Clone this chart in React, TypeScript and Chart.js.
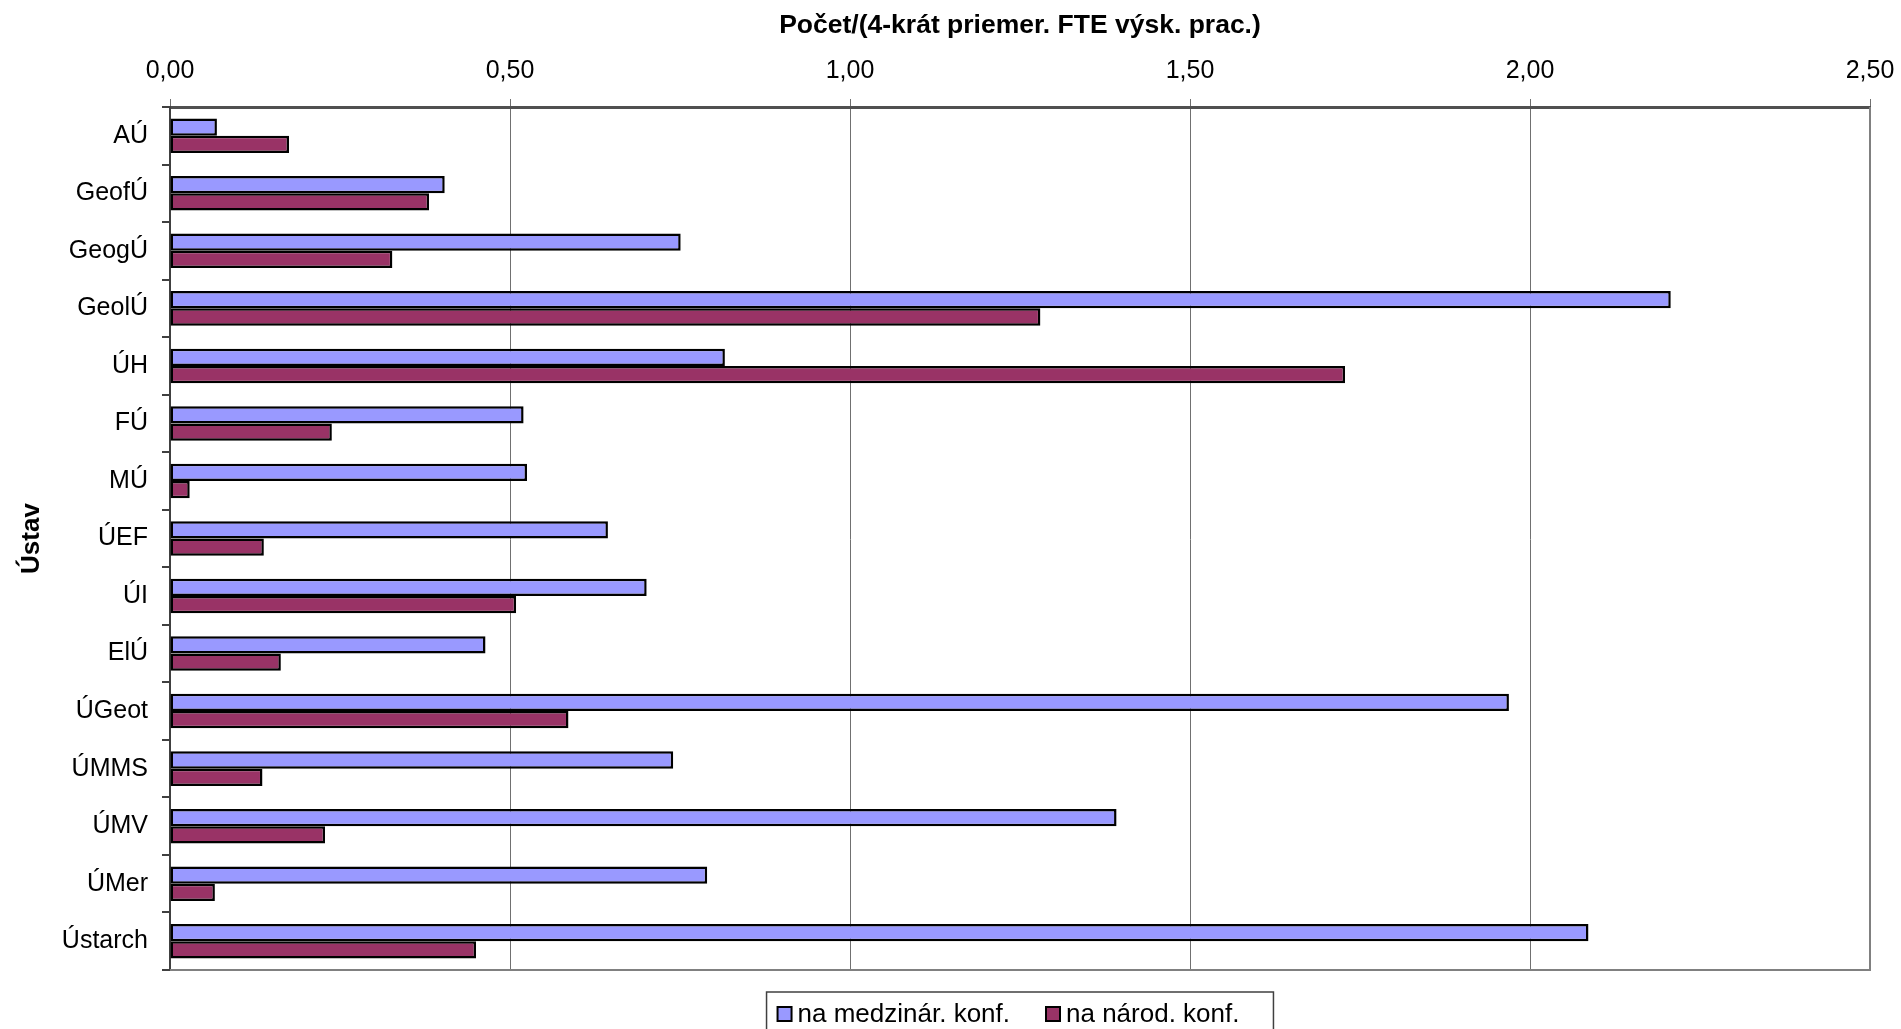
import React, { useEffect, useRef } from "react";
import { Chart, registerables } from "chart.js";

Chart.register(...registerables);

const categories = ["AÚ", "GeofÚ", "GeogÚ", "GeolÚ", "ÚH", "FÚ", "MÚ", "ÚEF", "ÚI", "ElÚ", "ÚGeot", "ÚMMS", "ÚMV", "ÚMer", "Ústarch"];
const seriesNames = ["na medzinár. konf.", "na národ. konf."];
const medzinar = [0.069, 0.404, 0.751, 2.207, 0.816, 0.52, 0.525, 0.644, 0.701, 0.464, 1.969, 0.74, 1.392, 0.79, 2.086];
const narod = [0.175, 0.381, 0.327, 1.28, 1.728, 0.238, 0.029, 0.138, 0.509, 0.163, 0.586, 0.136, 0.228, 0.066, 0.45];
const xTicks = [0, 0.5, 1, 1.5, 2, 2.5];
const xTitle = "Počet/(4-krát priemer. FTE výsk. prac.)";
const yTitle = "Ústav";

const FONT = "'Liberation Sans', Arial, sans-serif";

const framePlugin = {
  id: "frame",
  beforeDatasetsDraw(chart: any) {
    const { ctx, chartArea: a } = chart;
    ctx.save();
    ctx.strokeStyle = "#808080";
    ctx.lineWidth = 2;
    ctx.beginPath();
    ctx.moveTo(a.left, a.bottom);
    ctx.lineTo(a.right, a.bottom);
    ctx.lineTo(a.right, a.top);
    ctx.stroke();
    ctx.restore();
  },
};

const legendPlugin = {
  id: "boxLegend",
  afterDraw(chart: any) {
    const { ctx, chartArea: a } = chart;
    const ds = chart.data.datasets;
    ctx.save();
    ctx.font = `26px ${FONT}`;
    const box = 14;
    const gapText = 6;
    const gapItem = 36;
    const widths = ds.map((d: any) => ctx.measureText(d.label).width);
    let total = 0;
    widths.forEach((w: number, i: number) => {
      total += box + gapText + w + (i < widths.length - 1 ? gapItem : 0);
    });
    const padL = 11;
    const padR = 34;
    const bw = total + padL + padR;
    const cx = (a.left + a.right) / 2;
    const bx = cx - bw / 2;
    const by = a.bottom + 22;
    const ty = a.bottom + 44;
    ctx.fillStyle = "#ffffff";
    ctx.fillRect(bx, by, bw, 70);
    ctx.strokeStyle = "#404040";
    ctx.lineWidth = 1.5;
    ctx.strokeRect(bx, by, bw, 70);
    let x = bx + padL;
    ds.forEach((d: any, i: number) => {
      ctx.fillStyle = d.backgroundColor;
      ctx.fillRect(x, ty - box / 2, box, box);
      ctx.strokeStyle = "#000";
      ctx.lineWidth = 2;
      ctx.strokeRect(x, ty - box / 2, box, box);
      ctx.fillStyle = "#000";
      ctx.textBaseline = "middle";
      ctx.textAlign = "left";
      ctx.fillText(d.label, x + box + gapText, ty + 1);
      x += box + gapText + widths[i] + gapItem;
    });
    ctx.restore();
  },
};

export default function App() {
  const ref = useRef<HTMLCanvasElement>(null);
  useEffect(() => {
    const chart = new Chart(ref.current as HTMLCanvasElement, {
      type: "bar",
      data: {
        labels: categories,
        datasets: [
          {
            label: seriesNames[0],
            data: medzinar,
            backgroundColor: "#9999FF",
            borderColor: "#000000",
            borderWidth: 2.5,
            borderSkipped: false,
            categoryPercentage: 0.6,
            barPercentage: 1.0,
          },
          {
            label: seriesNames[1],
            data: narod,
            backgroundColor: "#993366",
            borderColor: "#000000",
            borderWidth: 2.5,
            borderSkipped: false,
            categoryPercentage: 0.6,
            barPercentage: 1.0,
          },
        ],
      },
      options: {
        indexAxis: "y",
        animation: false,
        responsive: true,
        maintainAspectRatio: false,
        layout: { padding: { top: 0, left: 0, right: 31, bottom: 59 } },
        plugins: {
          legend: { display: false },
          tooltip: { enabled: false },
          title: { display: false },
        },
        scales: {
          x: {
            type: "linear",
            position: "top",
            min: 0,
            max: 2.5,
            afterBuildTicks: (scale: any) => {
              scale.ticks = xTicks.map((v) => ({ value: v }));
            },
            afterFit: (scale: any) => {
              scale.height = 107;
              scale.paddingLeft = 0;
              scale.paddingRight = 0;
            },
            ticks: {
              font: { family: FONT, size: 25 },
              color: "#000",
              padding: 13,
              maxRotation: 0,
              callback: (v: any) => Number(v).toFixed(2).replace(".", ","),
            },
            grid: {
              color: "#707070",
              lineWidth: 1,
              tickLength: 8,
              drawTicks: true,
            },
            border: { display: true, color: "#505050", width: 3 },
            title: {
              display: true,
              text: xTitle,
              color: "#000",
              font: { family: FONT, size: 26.5, weight: "bold" },
              padding: { top: 10, bottom: 0 },
            },
          },
          y: {
            type: "category",
            afterFit: (scale: any) => {
              scale.width = 170;
            },
            ticks: {
              font: { family: FONT, size: 25 },
              color: "#000",
              padding: 14,
            },
            grid: {
              drawOnChartArea: false,
              drawTicks: true,
              tickLength: 8,
              color: "#404040",
              lineWidth: 2,
              offset: true,
            },
            border: { display: true, color: "#404040", width: 2 },
            title: {
              display: true,
              text: yTitle,
              color: "#000",
              font: { family: FONT, size: 26, weight: "bold" },
              padding: { top: 16, bottom: 0 },
            },
          },
        },
      },
      plugins: [framePlugin, legendPlugin],
    } as any);
    return () => chart.destroy();
  }, []);
  return (
    <div style={{ position: "fixed", left: 0, top: 0, width: 1901, height: 1029, background: "#fff" }}>
      <canvas ref={ref} />
    </div>
  );
}
